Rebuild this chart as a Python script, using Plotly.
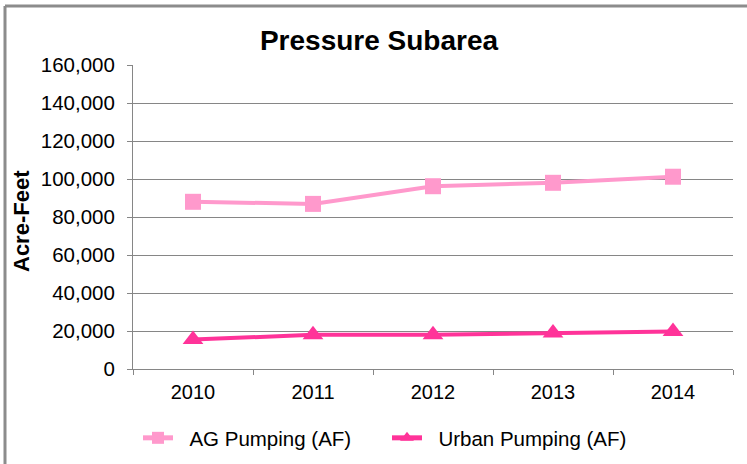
import plotly.graph_objects as go

years = ["2010", "2011", "2012", "2013", "2014"]
ag_pumping = [88000, 86900, 96200, 98000, 101200]
urban_pumping = [15500, 18000, 18000, 19000, 19800]
y_ticks = [0, 20000, 40000, 60000, 80000, 100000, 120000, 140000, 160000]
series_names = ["AG Pumping (AF)", "Urban Pumping (AF)"]

FONT = "Liberation Sans, Arial, sans-serif"
GRID = "#868686"
PAD = "\u00a0\u00a0"

fig = go.Figure()
fig.add_trace(go.Scatter(
    x=years, y=ag_pumping, name=PAD + series_names[0], mode="lines+markers",
    line=dict(color="#FF99CC", width=4),
    marker=dict(symbol="square", size=16, color="#FF99CC"),
))
fig.add_trace(go.Scatter(
    x=years, y=urban_pumping, name=PAD + series_names[1], mode="lines+markers",
    line=dict(color="#FF3399", width=4),
    marker=dict(symbol="triangle-up", size=18, color="#FF3399"),
))

W, H = 747, 464
L, R, T, B = 133, 14, 65, 95
pw = W - L - R
ph = H - T - B

def px_x(p):
    return (p - L) / pw

def px_y(p):
    return (H - B - p) / ph

fig.update_layout(
    width=W, height=H,
    margin=dict(l=L, r=R, t=T, b=B, autoexpand=False),
    paper_bgcolor="white", plot_bgcolor="white",
    font=dict(family=FONT, size=20, color="black"),
    title=dict(text="<b>Pressure Subarea</b>", x=379 / W, xanchor="center",
               y=1 - 40 / H, yanchor="middle", yref="container",
               font=dict(size=28, family=FONT, color="black")),
    showlegend=True,
    legend=dict(orientation="h", x=px_x(138), xanchor="left", y=px_y(438), yanchor="middle",
                font=dict(size=20.5, family=FONT), entrywidth=204, itemsizing="constant",
                bgcolor="rgba(0,0,0,0)"),
    xaxis=dict(type="category", range=[-0.5, 4.5], tickson="boundaries", ticks="outside",
               ticklen=5, tickcolor=GRID, showline=True, linecolor=GRID, linewidth=1,
               showgrid=False, tickfont=dict(size=20), ticklabelstandoff=5),
    yaxis=dict(range=[0, 160000], tickvals=y_ticks, tickformat=",d",
               ticks="outside", ticklen=5, tickcolor=GRID,
               showline=True, linecolor=GRID, linewidth=1,
               showgrid=True, gridcolor=GRID, gridwidth=1, zeroline=False,
               tickfont=dict(size=20.5), ticklabelstandoff=8),
    annotations=[dict(text="<b>Acre-Feet</b>", textangle=-90, xref="paper", yref="paper",
                      x=px_x(22), y=px_y(221), xanchor="center", yanchor="middle",
                      showarrow=False, font=dict(size=22, family=FONT, color="black"))],
    shapes=[
        dict(type="line", xref="paper", yref="paper", x0=px_x(5), x1=px_x(760),
             y0=px_y(6), y1=px_y(6), line=dict(color="#8c8c8c", width=3)),
        dict(type="line", xref="paper", yref="paper", x0=px_x(5), x1=px_x(5),
             y0=px_y(6), y1=px_y(480), line=dict(color="#8c8c8c", width=3)),
    ],
)

fig.write_html("out.html", config={"displayModeBar": False},
               post_script="document.body.style.margin='0';")
